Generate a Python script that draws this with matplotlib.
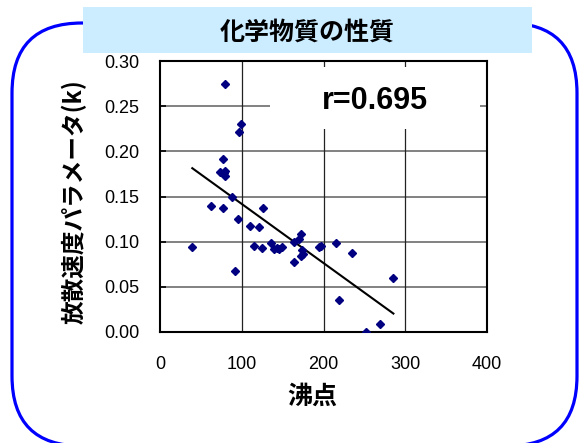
import numpy as np
import matplotlib
matplotlib.use("Agg")
import matplotlib.pyplot as plt
from matplotlib.patches import FancyBboxPatch, Rectangle
from matplotlib.transforms import IdentityTransform

# boiling point vs. diffusion rate parameter k
boiling_point = [80, 98.5, 97, 77, 74, 78, 80, 80, 88, 62, 77, 96, 125.5, 110,
                 120.5, 39.5, 92, 115.5, 124.5, 136, 139, 143, 145, 149.5,
                 164.5, 169.5, 173, 174, 173, 175, 164, 194, 197, 215.5,
                 234.5, 285.5, 219, 269, 252]
k_param = [0.275, 0.230, 0.221, 0.192, 0.177, 0.176, 0.178, 0.173, 0.150,
           0.139, 0.137, 0.125, 0.137, 0.117, 0.116, 0.094, 0.068, 0.095,
           0.093, 0.098, 0.092, 0.093, 0.092, 0.094, 0.100, 0.1025, 0.109,
           0.091, 0.084, 0.086, 0.077, 0.094, 0.095, 0.099, 0.087, 0.060,
           0.035, 0.009, 0.0]

x_ticks = [0, 100, 200, 300, 400]
y_ticks = [0.00, 0.05, 0.10, 0.15, 0.20, 0.25, 0.30]
title = "化学物質の性質"
x_label = "沸点"
y_label = "放散速度パラメータ(k)"
r_label = "r=0.695"

W, H = 579, 443
fig = plt.figure(figsize=(W / 100, H / 100), dpi=100)
fig.patch.set_facecolor("white")

cjk = ["Noto Sans CJK JP", "DejaVu Sans"]
num_font = ["Liberation Sans", "DejaVu Sans"]
narrow_font = ["Liberation Sans Narrow", "Liberation Sans", "DejaVu Sans"]

# rounded blue frame (pixel coordinates)
frame = FancyBboxPatch((12, H - 446), 565, 423,
                       boxstyle="round,pad=0,rounding_size=70",
                       transform=IdentityTransform(), facecolor="none",
                       edgecolor="#0000FF", linewidth=2.3, zorder=0)
fig.add_artist(frame)

# title banner
banner = Rectangle((83, H - 53), 449, 46, transform=IdentityTransform(),
                   facecolor="#CCECFF", edgecolor="none", zorder=1)
fig.add_artist(banner)
fig.text(307 / W, 1 - 33 / H, title, ha="center", va="center",
         fontsize=18, fontweight="bold", family=cjk, zorder=2)

ax = fig.add_axes([160 / W, 1 - 332 / H, 327 / W, 271 / H])
ax.set_xlim(0, 400)
ax.set_ylim(0, 0.30)
ax.set_axisbelow(True)

for yv in y_ticks[1:-1]:
    ax.axhline(yv, color="#777777", linewidth=1.3, zorder=0.5)
for xv in x_ticks[1:-1]:
    ax.axvline(xv, color="#222222", linewidth=0.9, zorder=0.5)

# white area behind the correlation label
ax.add_patch(Rectangle((270, H - 129), 210, 62, transform=IdentityTransform(),
                       facecolor="white", edgecolor="none", zorder=1))

bp = np.array(boiling_point)
kp = np.array(k_param)
ax.plot(bp, kp, linestyle="none", marker="D", markersize=4.3,
        color="#000080", zorder=3)

# least-squares trend line over the data range
slope, intercept = np.polyfit(bp, kp, 1)
xs = np.array([bp.min(), bp.max()])
ax.plot(xs, slope * xs + intercept, color="black", linewidth=1.5, zorder=2.8)

ax.text(263, 0.256, r_label, ha="center", va="center", fontsize=22,
        fontweight="bold", family=narrow_font, zorder=4)

ax.set_xticks(x_ticks)
ax.set_yticks(y_ticks)
ax.set_xticklabels([str(v) for v in x_ticks], family=num_font, fontsize=13)
ax.set_yticklabels([f"{v:.2f}" for v in y_ticks], family=num_font, fontsize=13)
ax.tick_params(axis="x", direction="in", length=0, pad=17)
ax.tick_params(axis="y", direction="in", length=4, width=1.2, pad=15)
for s in ax.spines.values():
    s.set_linewidth(1.5)
    s.set_color("black")

fig.text(74 / W, 1 - 202 / H, y_label, rotation=90, ha="center", va="center",
         fontsize=17, fontweight="bold", family=cjk)
fig.text(312 / W, 1 - 397 / H, x_label, ha="center", va="center",
         fontsize=18, fontweight="bold", family=cjk)

fig.savefig("out.png", dpi=100)
